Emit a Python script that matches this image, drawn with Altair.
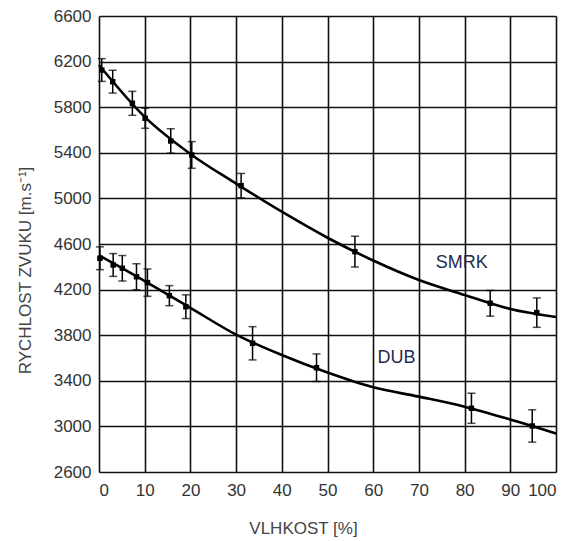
import altair as alt
import pandas as pd

# Measured points (moisture %, sound speed m/s, error half-width)
smrk_x = [0.6, 3.0, 7.3, 10.1, 15.7, 20.3, 31.1, 56.0, 85.6, 95.8]
smrk_y = [6126, 6024, 5834, 5703, 5504, 5381, 5112, 4533, 4080, 3998]
smrk_e = [100, 100, 105, 88, 107, 117, 107, 134, 113, 129]

dub_x = [0.2, 3.1, 5.1, 8.2, 10.6, 15.4, 19.0, 33.6, 47.6, 81.5, 94.8]
dub_y = [4475, 4416, 4387, 4313, 4261, 4147, 4050, 3729, 3515, 3159, 3004]
dub_e = [100, 100, 112, 114, 120, 88, 104, 146, 121, 132, 142]

# Fitted curves
curve_x = [0, 10, 20, 30, 40, 50, 60, 70, 80, 90, 100]
smrk_curve = [6170, 5715, 5390, 5130, 4883, 4655, 4455, 4284, 4153, 4030, 3960]
dub_curve = [4500, 4275, 4040, 3805, 3626, 3472, 3343, 3261, 3173, 3060, 2937]

labels = ["SMRK", "DUB"]
label_x = [79.4, 65.1]
label_y = [4431, 3597]

x_ticks = list(range(0, 101, 10))
y_ticks = list(range(2600, 6601, 400))

pts = pd.DataFrame({
    "x": smrk_x + dub_x,
    "y": smrk_y + dub_y,
    "lo": [v - e for v, e in zip(smrk_y, smrk_e)] + [v - e for v, e in zip(dub_y, dub_e)],
    "hi": [v + e for v, e in zip(smrk_y, smrk_e)] + [v + e for v, e in zip(dub_y, dub_e)],
    "s": ["SMRK"] * len(smrk_x) + ["DUB"] * len(dub_x),
})
curves = pd.DataFrame({
    "x": curve_x + curve_x,
    "y": smrk_curve + dub_curve,
    "s": ["SMRK"] * len(curve_x) + ["DUB"] * len(curve_x),
})
lab = pd.DataFrame({"t": labels, "x": label_x, "y": label_y})

FONT = "Liberation Sans"
xs = alt.Scale(domain=[0, 100], nice=False)
ys = alt.Scale(domain=[2600, 6600], nice=False, zero=False)

xax = alt.Axis(values=x_ticks, grid=True, ticks=False, tickSize=0, domain=False, format="d",
               labelPadding=10, labelFontSize=17, labelColor="#333", labelFont=FONT,
               title="VLHKOST [%]", titleFont=FONT, titleFontSize=17, titleFontWeight="normal",
               titleColor="#444", titleX=204, titleY=56, titleBaseline="middle",
               titleAnchor="start", titleAlign="center",
               gridColor="#111", gridWidth=1.6, gridOpacity=1)
yax = alt.Axis(values=y_ticks, grid=True, ticks=False, tickSize=0, domain=False, format="d",
               labelPadding=8, labelFontSize=17, labelColor="#333", labelFont=FONT,
               title="RYCHLOST ZVUKU [m.s⁻¹]", titleFont=FONT, titleFontSize=17,
               titleFontWeight="normal", titleColor="#444", titleX=-74, titleY=254,
               titleBaseline="middle", titleAlign="center", titleAngle=270,
               gridColor="#111", gridWidth=1.6, gridOpacity=1)

base_pts = alt.Chart(pts)

lines = alt.Chart(curves).mark_line(color="black", strokeWidth=2.6, interpolate="monotone").encode(
    x=alt.X("x:Q", scale=xs, axis=xax),
    y=alt.Y("y:Q", scale=ys, axis=yax),
    detail="s:N",
)
bars = base_pts.mark_rule(color="black", strokeWidth=1.5).encode(
    x="x:Q", y="lo:Q", y2="hi:Q")
cap_lo = base_pts.mark_tick(color="black", thickness=1.5, size=8, orient="horizontal").encode(
    x="x:Q", y="lo:Q")
cap_hi = base_pts.mark_tick(color="black", thickness=1.5, size=8, orient="horizontal").encode(
    x="x:Q", y="hi:Q")
dots = base_pts.mark_point(shape="square", filled=True, color="black", size=30, opacity=1).encode(
    x="x:Q", y="y:Q")
texts = alt.Chart(lab).mark_text(font=FONT, fontSize=18, color="#1f2a50", align="center",
                                 baseline="middle").encode(
    x="x:Q", y="y:Q", text="t:N")

chart = alt.layer(lines, bars, cap_lo, cap_hi, dots, texts).properties(
    width=457, height=456,
    autosize=alt.AutoSizeParams(type="none"),
    padding={"left": 91, "top": 8, "right": 10, "bottom": 68},
).configure_view(stroke="black", strokeWidth=2.6).configure(background="white")

chart.save("out.html", embed_options={"renderer": "svg", "actions": False})
